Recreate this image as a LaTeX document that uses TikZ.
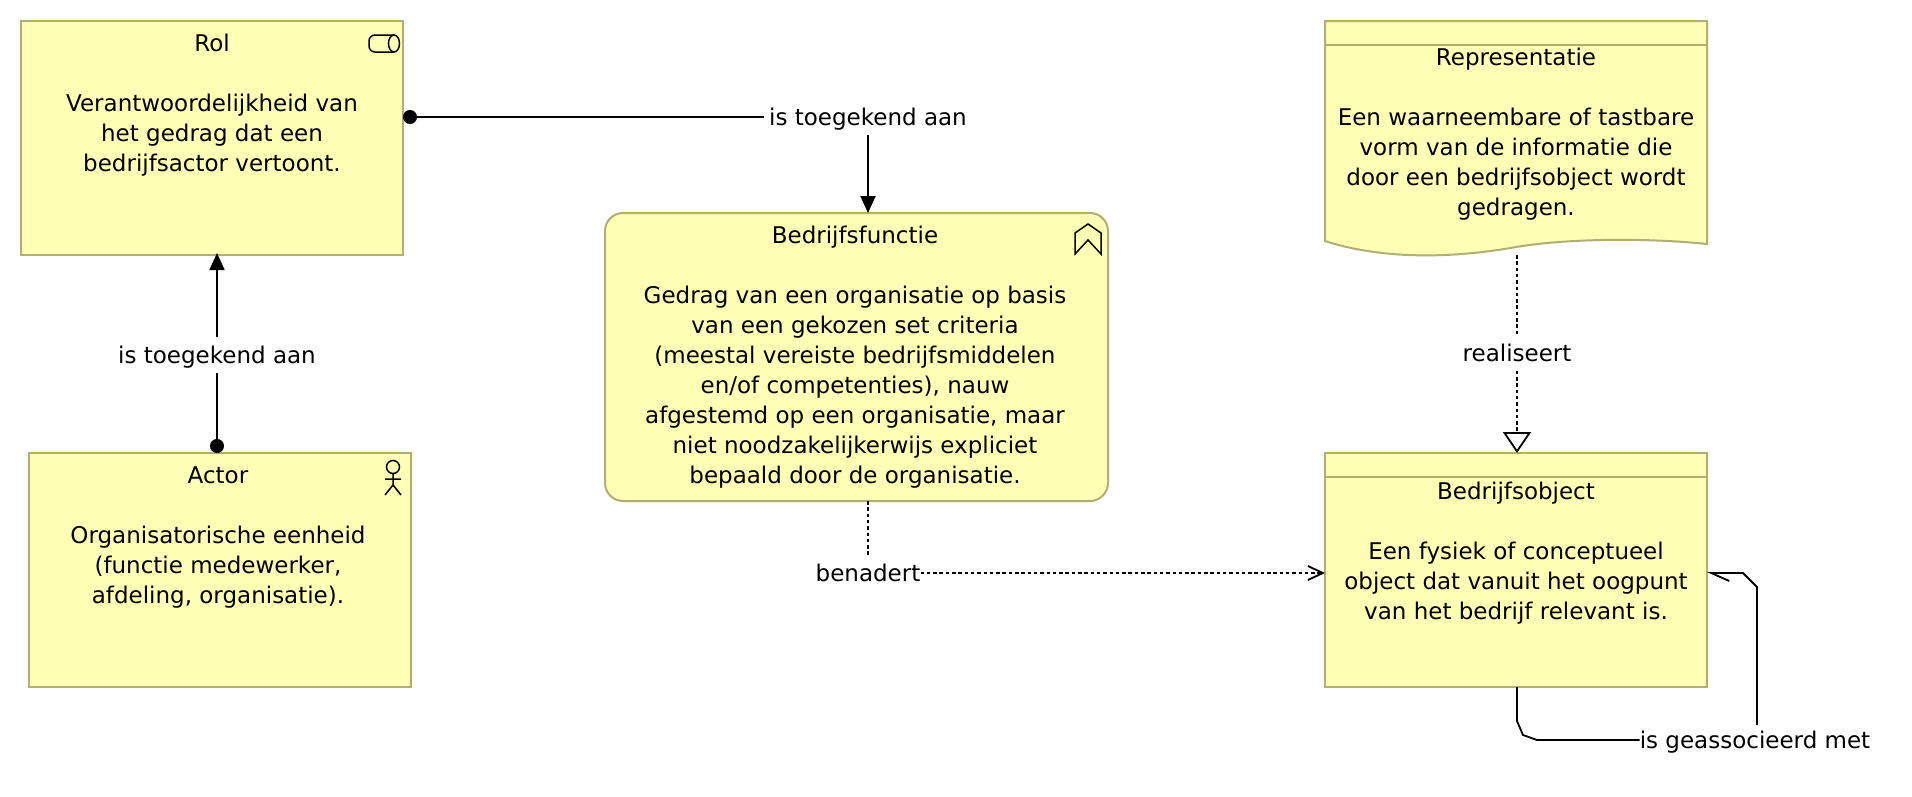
\documentclass[tikz,border=0pt]{standalone}
\usepackage{fontspec}
\setmainfont{DejaVu Sans}
\usetikzlibrary{arrows.meta}
\definecolor{boxfill}{HTML}{FFFFB5}
\definecolor{boxline}{HTML}{B0B070}
\tikzset{
  box/.style={draw=boxline, fill=boxfill, line width=2pt, minimum width=382pt, minimum height=234pt, inner sep=0pt, outer sep=0pt},
  boxtext/.style={align=center, font=\fontsize{23}{30}\selectfont, anchor=north, inner sep=0pt},
  lbl/.style={font=\fontsize{23}{24}\selectfont, fill=white, inner sep=5pt, text height=21pt, text depth=4pt},
  rel/.style={line width=1.8pt},
  dot/.style={{Circle[length=14pt,width=14pt]}-},
  head/.style={-{Triangle[length=17pt,width=15pt]}},
  access/.style={line width=1.8pt, dash pattern=on 3.5pt off 2.8pt},
  iconline/.style={line width=1.5pt}
}
\begin{document}
\begin{tikzpicture}[x=1pt,y=-1pt]
\useasboundingbox (0,0) rectangle (1912,796);

% elements
\node[box, anchor=north west] (rol) at (21,21) {};
\node[box, anchor=north west] (actor) at (29,453) {};
\node[box, anchor=north west, minimum width=503pt, minimum height=288pt, rounded corners=18pt] (functie) at (605,213) {};
\node[box, anchor=north west] (object) at (1325,453) {};
\draw[draw=boxline, line width=2pt] (1325,477) -- (1707,477);

\path[draw=boxline, fill=boxfill, line width=2pt]
(1325,21) -- (1707,21) -- (1707,244)
.. controls (1650,238) and (1570,238) .. (1516,247)
.. controls (1450,259) and (1380,259) .. (1325,241) -- cycle;
\draw[draw=boxline, line width=2pt] (1325,45) -- (1707,45);
\coordinate (repr) at (1517,255);

% texts
\node[boxtext] (roltxt) at (212,34) {Rol\\[30pt]Verantwoordelijkheid van\\het gedrag dat een\\bedrijfsactor vertoont.};
\node[boxtext] (actortxt) at (218,467) {Actor\\[30pt]Organisatorische eenheid\\(functie medewerker,\\afdeling, organisatie).};
\node[boxtext] (functietxt) at (855,226) {Bedrijfsfunctie\\[30pt]Gedrag van een organisatie op basis\\van een gekozen set criteria\\(meestal vereiste bedrijfsmiddelen\\en/of competenties), nauw\\afgestemd op een organisatie, maar\\niet noodzakelijkerwijs expliciet\\bepaald door de organisatie.};
\node[boxtext] (reprtxt) at (1516,48) {Representatie\\[30pt]Een waarneembare of tastbare\hspace*{6pt}\\vorm van de informatie die\\door een bedrijfsobject wordt\\gedragen.};
\node[boxtext] (objecttxt) at (1516,482) {Bedrijfsobject\\[30pt]Een fysiek of conceptueel\\object dat vanuit het oogpunt\\van het bedrijf relevant is.};

% icons
\draw[iconline, rounded corners=6pt] (394,35) -- (369,35) -- (369,52) -- (394,52);
\draw[iconline] (394,43.5) ellipse (5.5pt and 8.5pt);
\draw[iconline] (393,467) circle (6.5pt);
\draw[iconline]
(393,473.5) -- (393,485)
(385,479) -- (401,479)
(385,495) -- (393,485) -- (401,495);
\draw[iconline] (1075,254) -- (1075,233) -- (1088,224) -- (1101,233) -- (1101,254) -- (1088,240) -- cycle;

% labels
\node[lbl] (lblactor) at (217,355) {is toegekend aan};
\node[lbl] (lblrol) at (868,117) {is toegekend aan};
\node[lbl, inner xsep=0pt] (lblfunctie) at (868,573) {benadert};
\node[lbl] (lblrepr) at (1517,353) {realiseert};
\node[lbl, inner xsep=0pt] (lblobject) at (1755,740) {is geassocieerd met};

% connectors
\draw[rel, dot] (lblactor |- actor.north) -- (lblactor.south);
\draw[rel, head, shorten >=-2pt] (lblactor.north) -- (lblactor |- rol.south);
\draw[rel, dot] (rol.east |- lblrol) -- (lblrol.west);
\draw[rel, head] (lblrol.south) -- (functie.north -| lblrol);
\draw[access] (lblfunctie |- functie.south) -- (lblfunctie.north);
\draw[access, -{Straight Barb[length=15pt,width=14pt]}] (lblfunctie.east) -- (object.west |- lblfunctie);
\draw[access] (repr) -- (lblrepr.north);
\draw[access, -{Triangle[open,length=21pt,width=28pt,fill=white]}] (lblrepr.south) -- (lblrepr |- object.north);
\draw[rel]
(lblrepr |- object.south) -- (1517,721) -- (1523,735) -- (1537,740) -- (lblobject.west);
\draw[rel, -{Straight Barb[length=18pt,width=16pt,left]}]
(1757,725) -- (1757,587) -- (1743,573) -- (object.east |- 0,573);
\end{tikzpicture}
\end{document}
